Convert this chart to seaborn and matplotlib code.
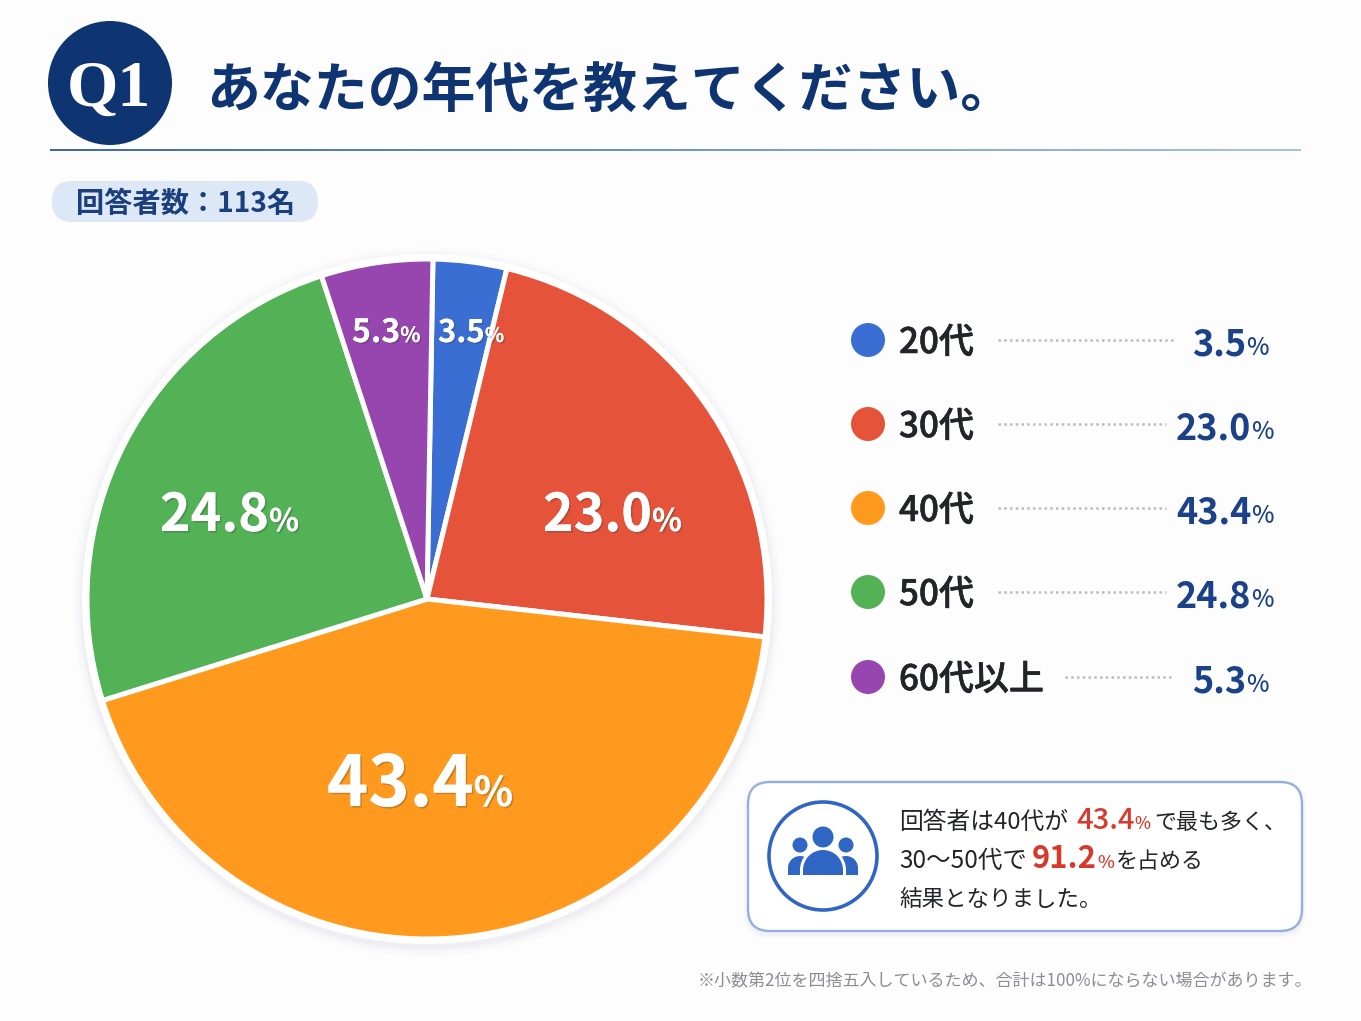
import matplotlib
matplotlib.use("Agg")
import matplotlib.pyplot as plt
import matplotlib.patheffects as pe
from matplotlib.patches import Circle, FancyBboxPatch, Wedge, Rectangle
import numpy as np
import pandas as pd
import seaborn as sns

# Survey results
ages = ["20代", "30代", "40代", "50代", "60代以上"]
shares = [3.5, 23.0, 43.4, 24.8, 5.3]
title = "あなたの年代を教えてください。"
respondents = "回答者数：113名"
footnote = "※小数第2位を四捨五入しているため、合計は100%にならない場合があります。"
top_share = 43.4
core_share = 91.2

# Styling
slice_colors = ["#3B6ED3", "#E5533B", "#FF9A1E", "#52B255", "#9746B0"]
NAVY = "#0F3472"
VALUE_BLUE = "#1B4289"
INK = "#222428"
ACCENT = "#D8392A"
ICON_BLUE = "#2F66C4"
BG = "#FDFDFE"
JP = ["Noto Sans CJK JP", "DejaVu Sans"]

W, H = 1361, 1021
PIE_X, PIE_Y, PIE_R = 427, 599, 340

sns.set_theme(style="white")
plt.rcParams["font.family"] = JP
palette = sns.color_palette(slice_colors)


def pt(px):
    return px * 0.72


fig = plt.figure(figsize=(W / 100, H / 100), dpi=100, facecolor=BG)
back = fig.add_axes([0, 0, 1, 1], zorder=0)
pie_ax_pad = 1.03
pie_ax = fig.add_axes(
    [(PIE_X - PIE_R * pie_ax_pad) / W, 1 - (PIE_Y + PIE_R * pie_ax_pad) / H,
     2 * PIE_R * pie_ax_pad / W, 2 * PIE_R * pie_ax_pad / H], zorder=1)
front = fig.add_axes([0, 0, 1, 1], zorder=2)
for a in (back, front):
    a.set_xlim(0, W)
    a.set_ylim(H, 0)
    a.axis("off")
    a.patch.set_alpha(0)
renderer = fig.canvas.get_renderer()


def runs(x, y, parts, anchor="left"):
    """Lay out (text, size_px, colour, weight) runs along one baseline."""
    drawn = []
    cur = x
    for text, size, color, weight in parts:
        t = front.text(cur, y, text, fontsize=pt(size), color=color, weight=weight,
                       ha="left", va="baseline", family=JP)
        cur += t.get_window_extent(renderer).width
        drawn.append(t)
    if anchor == "right":
        shift = cur - x
        for t in drawn:
            t.set_x(t.get_position()[0] - shift)
    return drawn


# Soft halo behind the pie
for grow, alpha in [(15, 0.008), (12, 0.012), (9, 0.018), (7, 0.022)]:
    back.add_patch(Circle((PIE_X, PIE_Y + 3), PIE_R + grow, fc="#30456B", ec="none", alpha=alpha))
back.add_patch(Circle((PIE_X, PIE_Y), PIE_R + 5, fc="white", ec="none"))

# Pie
pie_ax.pie(shares, colors=palette, startangle=89, counterclock=False,
           wedgeprops=dict(edgecolor="white", linewidth=pt(5)))
pie_ax.set_xlim(-pie_ax_pad, pie_ax_pad)
pie_ax.set_ylim(-pie_ax_pad, pie_ax_pad)
pie_ax.patch.set_alpha(0)

# Labels on the slices: left edge, baseline, number size, percent size
slice_label_style = [
    (438, 342, 31, 20),
    (543, 531, 52, 31),
    (327, 806, 70, 41),
    (160, 531, 52, 31),
    (352, 342, 32, 21),
]
shadow = [pe.withSimplePatchShadow(offset=(1.2, -1.2), shadow_rgbFace="#333333", alpha=0.25), pe.Normal()]
for share, (lx, ly, big, small) in zip(shares, slice_label_style):
    for t in runs(lx, ly, [(f"{share:.1f}", big, "white", "bold"), ("%", small, "white", "bold")]):
        t.set_path_effects(shadow)

# Header
front.add_patch(Circle((110, 83), 62, fc=NAVY, ec="none"))
front.text(109, 106, "Q1", color="white", fontsize=pt(66), weight="bold",
           family="Liberation Serif", ha="center", va="baseline")
front.text(206, 107, title, color=NAVY, fontsize=pt(53.9), weight="bold",
           ha="left", va="baseline", family=JP)
rule = np.linspace(0, 1, 256)[None, :]
rule_cmap = matplotlib.colors.LinearSegmentedColormap.from_list("rule", ["#3C68AC", "#A9C2E6"])
front.imshow(rule, extent=(50, 1301, 151, 149.4), cmap=rule_cmap, aspect="auto", zorder=1)
front.set_xlim(0, W)
front.set_ylim(H, 0)

# Respondent count pill
front.add_patch(FancyBboxPatch((52 + 20, 181 + 20), 266 - 40, 41 - 40,
                               boxstyle="round,pad=20,rounding_size=20", fc="#DDE8F7", ec="none"))
front.text(76, 212, respondents, color="#1B3E7C", fontsize=pt(28.2), weight="bold",
           ha="left", va="baseline", family=JP)

# Legend rows
row_y = [340, 424, 508, 592, 677]
leader_spans = [(998, 1173), (998, 1166), (998, 1166), (998, 1166), (1065, 1173)]
value_right = [1269, 1274, 1274, 1274, 1269]
legend_df = pd.DataFrame({"x": [868] * len(ages), "y": row_y, "age": ages})
sns.scatterplot(data=legend_df, x="x", y="y", hue="age", palette=slice_colors, s=pt(34) ** 2,
                linewidth=0, legend=False, ax=front, zorder=3)
front.set_xlabel("")
front.set_ylabel("")
thicken = [pe.withStroke(linewidth=0.4, foreground=INK)]
for age, share, y, span, right in zip(ages, shares, row_y, leader_spans, value_right):
    front.text(899, y + 13, age, color=INK, fontsize=pt(35), weight="medium",
               ha="left", va="baseline", family=JP, path_effects=thicken)
    front.plot(span, [y, y], color="#B9BCC2", lw=1.8, ls=(0, (1, 1.3)))
    runs(right, y + 15, [(f"{share:.1f}", 36, VALUE_BLUE, "bold"), ("%", 24, VALUE_BLUE, "medium")], anchor="right")

# Callout box
for grow, alpha in [(5, 0.012), (3, 0.018), (1.5, 0.025)]:
    back.add_patch(FancyBboxPatch((770, 804 + 3), 510, 105, boxstyle=f"round,pad={22 + grow},rounding_size={22 + grow}",
                                  fc="#30456B", ec="none", alpha=alpha))
front.add_patch(FancyBboxPatch((770, 804), 510, 105, boxstyle="round,pad=22,rounding_size=22",
                               fc="white", ec="#94B1DE", lw=pt(2.4), zorder=0.5))

# Group icon
front.add_patch(Circle((823, 856), 54, fc="white", ec=ICON_BLUE, lw=pt(3.6)))
for hx in (800, 846):
    front.add_patch(Circle((hx, 845), 7.5, fc=ICON_BLUE, ec="none", zorder=4))
    front.add_patch(Wedge((hx, 868), 12, 180, 360, fc=ICON_BLUE, ec="none", zorder=4))
    front.add_patch(Rectangle((hx - 12, 867.5), 24, 7.5, fc=ICON_BLUE, ec="none", zorder=4))
front.add_patch(Circle((823, 837), 10.5, fc=ICON_BLUE, ec="none", zorder=5))
front.add_patch(Wedge((823, 870), 23, 180, 360, fc="white", ec="none", zorder=4.5))
front.add_patch(Rectangle((800, 869.5), 46, 5.5, fc="white", ec="none", zorder=4.5))
front.add_patch(Wedge((823, 870), 20, 180, 360, fc=ICON_BLUE, ec="none", zorder=5))
front.add_patch(Rectangle((803, 869.5), 40, 5.5, fc=ICON_BLUE, ec="none", zorder=5))

# Callout text
runs(899, 829, [("回答者は40代が", 23.8, INK, "regular")])
runs(1076, 829, [(f"{top_share:.1f}", 29, ACCENT, "medium"), ("%", 17, ACCENT, "medium")])
runs(1154, 829, [("で最も多く、", 22, INK, "regular")])
runs(899, 868, [("30〜50代で", 24.5, INK, "regular")])
runs(1032, 868, [(f"{core_share:.1f}", 31, ACCENT, "bold"), ("%", 18, ACCENT, "medium")])
runs(1116, 868, [("を占める", 22, INK, "regular")])
runs(899, 906, [("結果となりました。", 22.5, INK, "regular")])

# Footnote
front.text(1312, 986, footnote, color="#8B8D91", fontsize=pt(17), ha="right", va="baseline", family=JP)

fig.savefig("out.png", dpi=100, facecolor=BG)
